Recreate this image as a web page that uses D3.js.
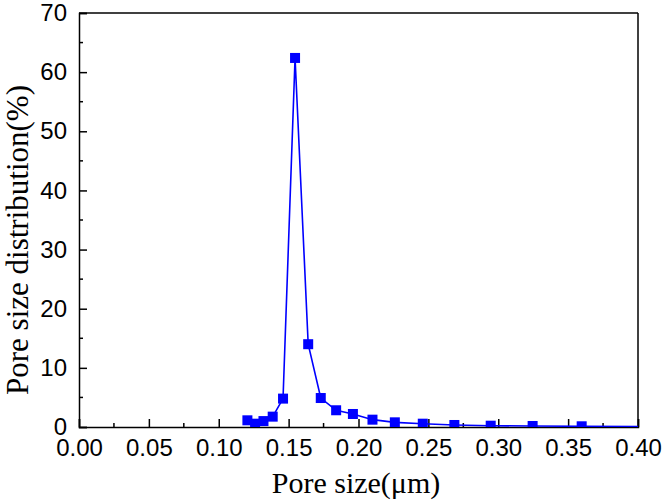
<!DOCTYPE html>
<html>
<head>
<meta charset="utf-8">
<script src="https://cdn.jsdelivr.net/npm/d3@7"></script>
<style>
  body { margin: 0; background: #fff; }
  svg { display: block; }
  .tick text { font-family: 'Liberation Sans', Arial, sans-serif; }
  .title { font-family: 'Liberation Serif', 'Times New Roman', serif; }
</style>
</head>
<body>
<div id="chart"></div>
<script>
// pore size (um) and distribution (%)
var pore_size = [0.1205, 0.126, 0.132, 0.1386, 0.146, 0.1546, 0.164, 0.173, 0.184, 0.196,
                 0.210, 0.226, 0.246, 0.2686, 0.2946, 0.3246, 0.3597, 0.41];
var distribution = [1.13, 0.56, 1.0, 1.75, 4.8, 62.4, 14.0, 4.9, 2.83, 2.2,
                    1.24, 0.79, 0.56, 0.34, 0.22, 0.17, 0.12, 0.04];
var x_ticks = [0, 0.05, 0.10, 0.15, 0.20, 0.25, 0.30, 0.35, 0.40];
var y_ticks = [0, 10, 20, 30, 40, 50, 60, 70];

var width = 664, height = 502;
var margin = {left: 79, right: 26, top: 13, bottom: 75};
var plot_w = width - margin.left - margin.right;
var plot_h = height - margin.top - margin.bottom;
var colour = '#0000ff';

var svg = d3.select('#chart').append('svg')
  .attr('width', width)
  .attr('height', height);

var x = d3.scaleLinear().domain([0, 0.40]).range([0, plot_w]);
var y = d3.scaleLinear().domain([0, 70]).range([plot_h, 0]);

var g = svg.append('g')
  .attr('transform', 'translate(' + margin.left + ',' + margin.top + ')');

g.append('clipPath').attr('id', 'plot_clip')
  .append('rect').attr('width', plot_w).attr('height', plot_h);

// minor ticks (inward)
var x_minor = d3.range(0.025, 0.40, 0.05);
var y_minor = d3.range(5, 70, 10);

var x_axis = g.append('g')
  .attr('transform', 'translate(0,' + plot_h + ')')
  .call(d3.axisBottom(x).tickValues(x_ticks).tickSize(-8).tickPadding(12)
    .tickFormat(d3.format('.2f')));
x_axis.append('g').selectAll('line').data(x_minor).join('line')
  .attr('x1', d => x(d)).attr('x2', d => x(d))
  .attr('y1', 0).attr('y2', -4)
  .attr('stroke', '#000').attr('stroke-width', 1.5);

var y_axis = g.append('g')
  .call(d3.axisLeft(y).tickValues(y_ticks).tickSize(-8).tickPadding(12));
y_axis.append('g').selectAll('line').data(y_minor).join('line')
  .attr('x1', 0).attr('x2', 4)
  .attr('y1', d => y(d)).attr('y2', d => y(d))
  .attr('stroke', '#000').attr('stroke-width', 1.5);

[x_axis, y_axis].forEach(function(a) {
  a.attr('font-family', null).attr('font-size', null);
  a.select('.domain').attr('stroke-width', 1.5);
  a.selectAll('.tick line').attr('stroke-width', 1.5);
  a.selectAll('text')
    .attr('font-size', 24)
    .attr('fill', '#000');
});
y_axis.selectAll('text').attr('dy', '0.32em');

// frame top / right
g.append('line').attr('x1', 0).attr('x2', plot_w).attr('y1', 0).attr('y2', 0)
  .attr('stroke', '#000').attr('stroke-width', 1.5);
g.append('line').attr('x1', plot_w).attr('x2', plot_w).attr('y1', 0).attr('y2', plot_h)
  .attr('stroke', '#000').attr('stroke-width', 1.5);

var pts = pore_size.map((d, i) => ({x: d, y: distribution[i]}));

var data_g = g.append('g').attr('clip-path', 'url(#plot_clip)');
data_g.append('path')
  .datum(pts)
  .attr('fill', 'none')
  .attr('stroke', colour)
  .attr('stroke-width', 1.6)
  .attr('d', d3.line().x(d => x(d.x)).y(d => y(d.y)));

var m = 10;
data_g.selectAll('rect.pt')
  .data(pts)
  .join('rect')
  .attr('class', 'pt')
  .attr('x', d => x(d.x) - m / 2)
  .attr('y', d => y(d.y) - m / 2)
  .attr('width', m)
  .attr('height', m)
  .attr('fill', colour);

// axis titles
svg.append('text')
  .attr('class', 'title')
  .attr('x', 356)
  .attr('y', 493)
  .attr('text-anchor', 'middle')
  .attr('font-size', 30)
  .text('Pore size(\u03bcm)');

svg.append('text')
  .attr('class', 'title')
  .attr('transform', 'translate(28,240) rotate(-90)')
  .attr('text-anchor', 'middle')
  .attr('font-size', 31)
  .text('Pore size distribution(%)');
</script>
</body>
</html>
